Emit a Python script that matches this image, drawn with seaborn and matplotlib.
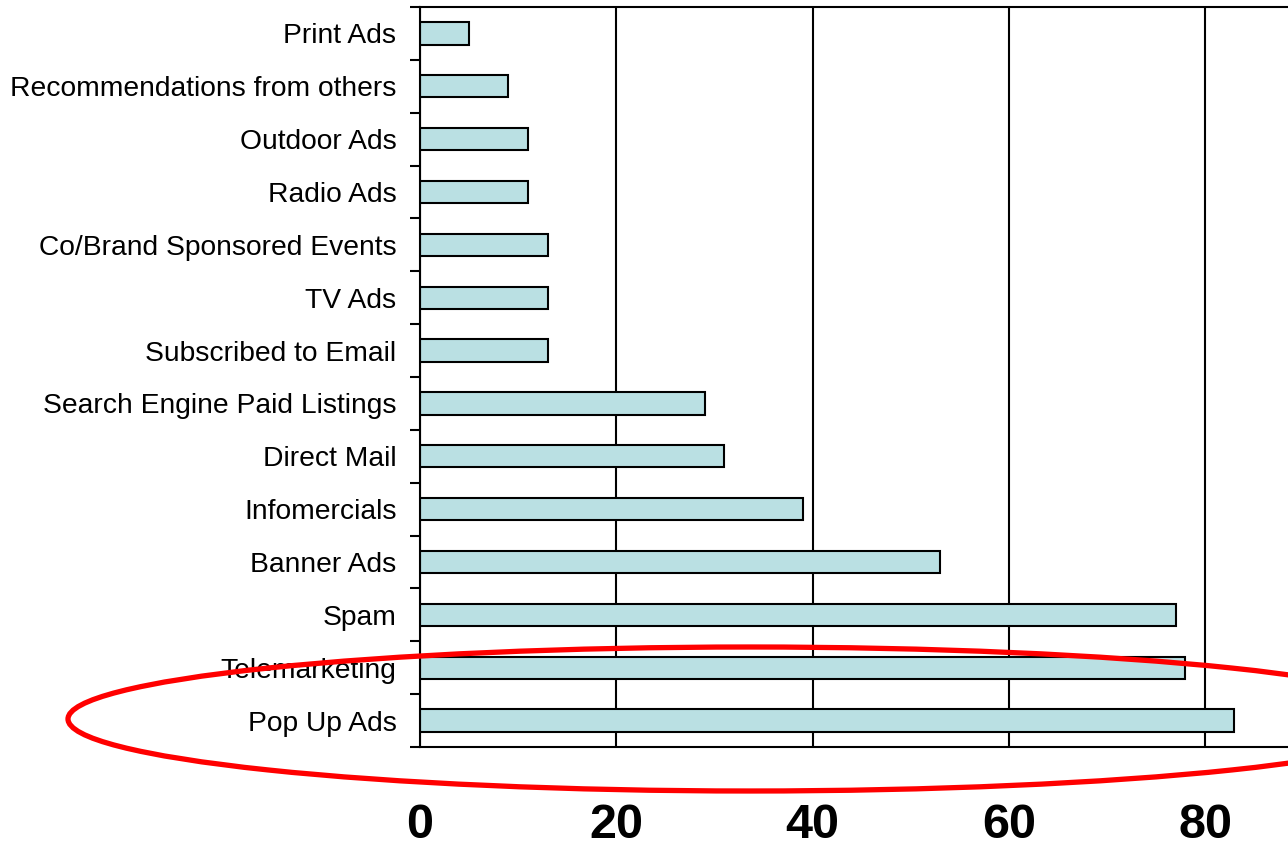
import matplotlib
matplotlib.use("Agg")
import matplotlib.pyplot as plt
from matplotlib.patches import Ellipse
import seaborn as sns
import pandas as pd

sources = [
    "Print Ads",
    "Recommendations from others",
    "Outdoor Ads",
    "Radio Ads",
    "Co/Brand Sponsored Events",
    "TV Ads",
    "Subscribed to Email",
    "Search Engine Paid Listings",
    "Direct Mail",
    "Infomercials",
    "Banner Ads",
    "Spam",
    "Telemarketing",
    "Pop Up Ads",
]
values = [5, 9, 11, 11, 13, 13, 13, 29, 31, 39, 53, 77, 78, 83]
x_ticks = [0, 20, 40, 60, 80]

df = pd.DataFrame({"source": sources, "value": values})

sns.set_style("white")
plt.rcParams["font.family"] = ["Liberation Sans", "DejaVu Sans"]
plt.rcParams["text.color"] = "black"
plt.rcParams["xtick.color"] = "black"
plt.rcParams["ytick.color"] = "black"

W, H = 1288, 848
fig = plt.figure(figsize=(W / 100, H / 100), dpi=100)
ax = fig.add_axes([420 / W, (H - 747) / H, 981.25 / W, 740 / H])

sns.barplot(
    data=df, x="value", y="source", orient="h", order=sources,
    color="#BAE0E3", saturation=1, width=0.42,
    edgecolor="black", linewidth=1.5, ax=ax,
)

ax.set_xlim(0, 100)
ax.set_ylim(len(sources) - 0.5, -0.5)
ax.set_xlabel("")
ax.set_ylabel("")

# vertical gridlines behind the bars
ax.set_axisbelow(True)
ax.set_xticks(x_ticks)
ax.xaxis.grid(True, color="black", linewidth=1.5)
ax.yaxis.grid(False)

for side in ("left", "bottom", "top"):
    ax.spines[side].set_visible(True)
    ax.spines[side].set_color("black")
    ax.spines[side].set_linewidth(1.5)
ax.spines["right"].set_visible(False)

# x tick labels: big bold numbers with long outward ticks
ax.tick_params(axis="x", which="major", direction="out", length=13, width=1.5,
               color="black", labelcolor="black", pad=27, labelsize=35)
for lbl in ax.get_xticklabels():
    lbl.set_fontweight("bold")

# category labels without ticks; short ticks sit between categories
ax.tick_params(axis="y", which="major", length=0, pad=17, labelsize=20.3,
               labelcolor="black")
ax.set_yticks([i - 0.5 for i in range(len(sources) + 1)], minor=True)
ax.tick_params(axis="y", which="minor", direction="out", length=7, width=1.5,
               color="black", left=True)

# highlight around the bottom two categories
ring = Ellipse(
    (750 / W, (H - 719) / H), 1364 / W, 144 / H,
    transform=fig.transFigure, fill=False, edgecolor="#FF0000",
    linewidth=3.8, clip_on=False, zorder=10,
)
fig.add_artist(ring)

fig.savefig("out.png", dpi=100)
